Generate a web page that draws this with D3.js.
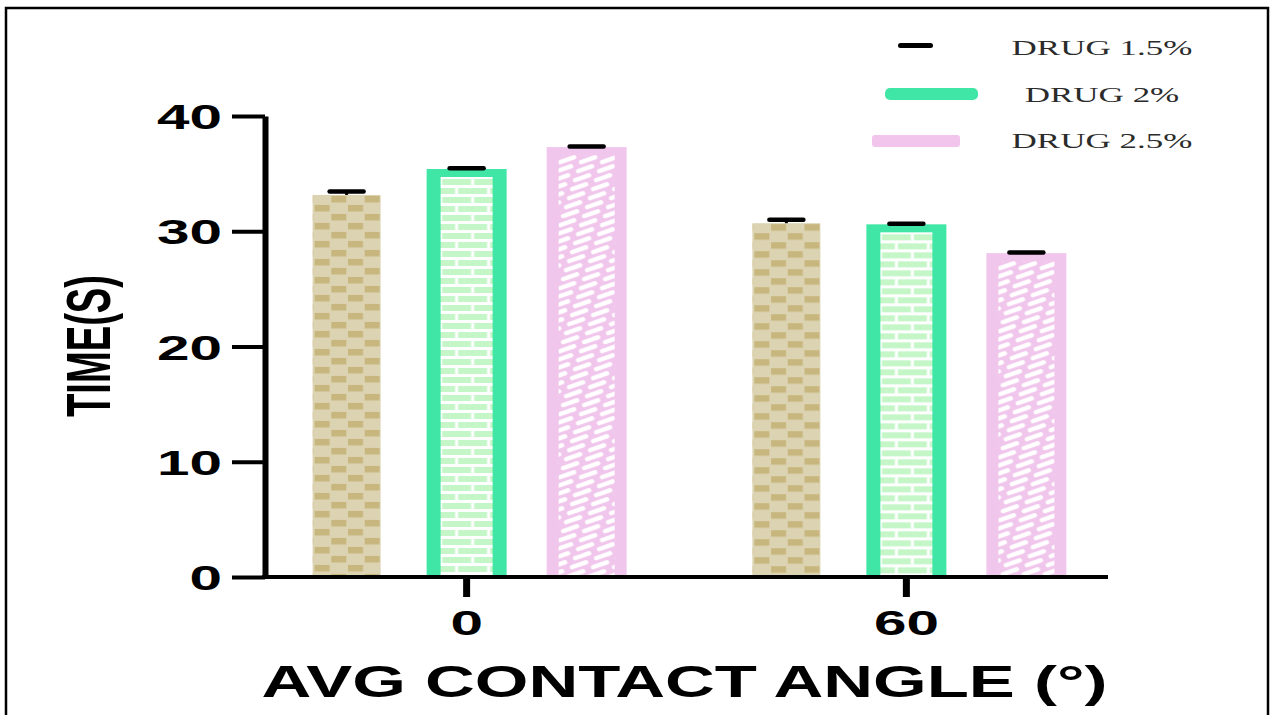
<!DOCTYPE html>
<html>
<head>
<meta charset="utf-8">
<script src="https://cdn.jsdelivr.net/npm/d3@7"></script>
<style>
  body { margin: 0; background: #fff; }
  svg { display: block; }
</style>
</head>
<body>
<svg id="chart" width="1272" height="715"></svg>
<script>
// ---- data ----
const angles = ["0", "60"];
const series = ["DRUG 1.5%", "DRUG 2%", "DRUG 2.5%"];
const meanAt0 = [33.15, 35.4, 37.3];
const meanAt60 = [30.7, 30.6, 28.1];
const semAt0 = [0.3, 0.06, 0.06];
const semAt60 = [0.3, 0.06, 0.06];
const yTicks = [0, 10, 20, 30, 40];
const xTitle = "AVG CONTACT ANGLE (°)";
const yTitle = "TIME(S)";

// ---- layout ----
const SX = 1.67;               // lettering is drawn wide
const plot = { left: 265, right: 1108, top: 116, bottom: 577 };
const sansBold = "'Liberation Sans', Arial, Helvetica, sans-serif";
const serif = "'Liberation Serif', 'Times New Roman', serif";

const looks = [
  { kind: "checker", inset: 6, side: 0, top: 0, edge: null, key: "#000" },
  { kind: "brick", inset: 0, side: 14, top: 8, edge: "#40e6a6", key: "#40e6a6" },
  { kind: "dash", inset: 0, side: 12, top: 8, edge: "#f1c6ec", key: "#f2c6ec" }
];

const svg = d3.select("#chart");
const defs = svg.append("defs");

const y = d3.scaleLinear().domain([0, 40]).range([plot.bottom, plot.top]);
const x0 = d3.scaleBand().domain(angles).range([plot.left, plot.right])
  .paddingInner(0.18).paddingOuter(0.0485);
const x1 = d3.scaleBand().domain(series).range([0, x0.bandwidth()])
  .paddingInner(1 / 3).paddingOuter(0.169);

const means = { "0": meanAt0, "60": meanAt60 };
const sems = { "0": semAt0, "60": semAt60 };
const bars = angles.flatMap(a => series.map((s, j) => ({
  angle: a, series: s, j, mean: means[a][j], sem: sems[a][j]
})));

// ---- fill patterns, one per bar so each starts at its bar's edge ----
function makePattern(id, kind, px, py) {
  if (kind === "checker") {
    const p = defs.append("pattern").attr("id", id).attr("patternUnits", "userSpaceOnUse")
      .attr("x", px + 2).attr("y", py).attr("width", 33.4).attr("height", 18);
    p.append("rect").attr("width", 33.4).attr("height", 18).attr("fill", "#dcd3b2");
    p.append("rect").attr("x", 16.7).attr("y", 1).attr("width", 15).attr("height", 6.5).attr("fill", "#c7b77f");
    p.append("rect").attr("x", 0).attr("y", 10).attr("width", 15).attr("height", 6.5).attr("fill", "#c7b77f");
  } else if (kind === "brick") {
    const p = defs.append("pattern").attr("id", id).attr("patternUnits", "userSpaceOnUse")
      .attr("x", px).attr("y", py).attr("width", 32).attr("height", 18);
    p.append("rect").attr("width", 32).attr("height", 18).attr("fill", "#ffffff");
    p.append("rect").attr("x", 1.5).attr("y", 2).attr("width", 29).attr("height", 6).attr("fill", "#c4f6c8");
    p.append("rect").attr("x", -14.5).attr("y", 11).attr("width", 29).attr("height", 6).attr("fill", "#c4f6c8");
    p.append("rect").attr("x", 17.5).attr("y", 11).attr("width", 29).attr("height", 6).attr("fill", "#c4f6c8");
  } else {
    // slanted white dashes; each row steps 3px left, repeating after 7 rows
    const tw = 21, rowH = 9, rows = 7;
    const p = defs.append("pattern").attr("id", id).attr("patternUnits", "userSpaceOnUse")
      .attr("x", px).attr("y", py).attr("width", tw).attr("height", rowH * rows);
    p.append("rect").attr("width", tw).attr("height", rowH * rows).attr("fill", "#f1c6ec");
    for (let r = 0; r < rows; r++) {
      const off = (tw - 3 * r) % tw;
      [off - tw, off, off + tw].forEach(ox => {
        p.append("line")
          .attr("x1", ox + 1.5).attr("y1", r * rowH + 7)
          .attr("x2", ox + 15.5).attr("y2", r * rowH + 2.2)
          .attr("stroke", "#ffffff").attr("stroke-width", 4.4).attr("stroke-linecap", "round");
      });
    }
  }
}

// ---- bars ----
const gBars = svg.append("g");
bars.forEach((d, i) => {
  const lk = looks[d.j];
  const bx = x0(d.angle) + x1(d.series) + lk.inset;
  const bw = x1.bandwidth() - 2 * lk.inset;
  const by = y(d.mean);
  const bh = y(0) - by;
  const pid = "fill-" + i;
  if (lk.edge) {
    gBars.append("rect").attr("x", bx).attr("y", by).attr("width", bw).attr("height", bh)
      .attr("fill", lk.edge);
    makePattern(pid, lk.kind, bx + lk.side, by + lk.top);
    gBars.append("rect").attr("x", bx + lk.side).attr("y", by + lk.top)
      .attr("width", bw - 2 * lk.side).attr("height", bh - lk.top)
      .attr("fill", `url(#${pid})`);
  } else {
    makePattern(pid, lk.kind, bx, by);
    gBars.append("rect").attr("x", bx).attr("y", by).attr("width", bw).attr("height", bh)
      .attr("fill", `url(#${pid})`);
  }
});

// ---- error bars (upper caps) ----
const gErr = svg.append("g").attr("stroke", "#000");
bars.forEach(d => {
  const cx = x0(d.angle) + x1(d.series) + x1.bandwidth() / 2;
  gErr.append("line").attr("x1", cx).attr("x2", cx)
    .attr("y1", y(d.mean)).attr("y2", y(d.mean + d.sem)).attr("stroke-width", 3);
  gErr.append("line").attr("x1", cx - 17).attr("x2", cx + 17)
    .attr("y1", y(d.mean + d.sem)).attr("y2", y(d.mean + d.sem))
    .attr("stroke-width", 4.5).attr("stroke-linecap", "round");
});

// ---- axes ----
const gy = svg.append("g").attr("transform", `translate(${plot.left},0)`)
  .call(d3.axisLeft(y).tickValues(yTicks).tickSize(33).tickSizeOuter(0));
gy.select(".domain").attr("stroke", "#000").attr("stroke-width", 6);
gy.selectAll(".tick line").attr("stroke", "#000").attr("stroke-width", 4);
gy.selectAll(".tick text")
  .attr("x", -43 / SX).attr("dy", "0.36em")
  .attr("transform", `scale(${SX},1)`)
  .style("font-family", sansBold).style("font-weight", "bold")
  .style("font-size", "35px").attr("fill", "#000");

const gx = svg.append("g").attr("transform", `translate(0,${plot.bottom})`)
  .call(d3.axisBottom(x0).tickSize(20).tickSizeOuter(0));
gx.select(".domain").attr("stroke", "#000").attr("stroke-width", 4)
  .attr("d", `M${plot.left - 3},0H${plot.right}`);
gx.selectAll(".tick line").attr("stroke", "#000").attr("stroke-width", 7);
// scaling about the tick origin keeps the centre fixed for middle-anchored text
gx.selectAll(".tick text")
  .attr("y", 58).attr("dy", 0)
  .attr("transform", `scale(${SX},1)`)
  .attr("x", 0)
  .style("font-family", sansBold).style("font-weight", "bold")
  .style("font-size", "35px").attr("fill", "#000");

// ---- axis titles ----
svg.append("text")
  .attr("x", (plot.left + plot.right) / 2 - 2).attr("y", 697)
  .attr("text-anchor", "middle")
  .attr("textLength", 846).attr("lengthAdjust", "spacingAndGlyphs")
  .style("font-family", sansBold).style("font-weight", "bold").style("font-size", "44px")
  .attr("fill", "#000").text(xTitle);

svg.append("text")
  .attr("transform", `translate(110,346) scale(${SX},1) rotate(-90)`)
  .attr("text-anchor", "middle")
  .attr("textLength", 142).attr("lengthAdjust", "spacingAndGlyphs")
  .style("font-family", sansBold).style("font-weight", "bold").style("font-size", "38px")
  .attr("fill", "#000").text(yTitle);

// ---- legend ----
const legendKeys = [
  { x: 898, w: 35, cy: 45.5, h: 5, rx: 2.5 },
  { x: 885, w: 93, cy: 94, h: 12, rx: 5 },
  { x: 872, w: 88, cy: 141, h: 12, rx: 3 }
];
const legendBase = [55, 102, 148];
const gLeg = svg.append("g");
series.forEach((s, j) => {
  const k = legendKeys[j];
  gLeg.append("rect").attr("x", k.x).attr("y", k.cy - k.h / 2)
    .attr("width", k.w).attr("height", k.h).attr("rx", k.rx)
    .attr("fill", looks[j].key);
  gLeg.append("text")
    .attr("transform", `translate(1102,${legendBase[j]}) scale(1.75,1)`)
    .attr("text-anchor", "middle")
    .style("font-family", serif).style("font-size", "20px")
    .attr("fill", "#2b2b2b").text(s);
});

// ---- outer frame ----
svg.append("rect").attr("x", 6).attr("y", 8).attr("width", 1262).attr("height", 730)
  .attr("fill", "none").attr("stroke", "#000").attr("stroke-width", 2.5);
</script>
</body>
</html>
